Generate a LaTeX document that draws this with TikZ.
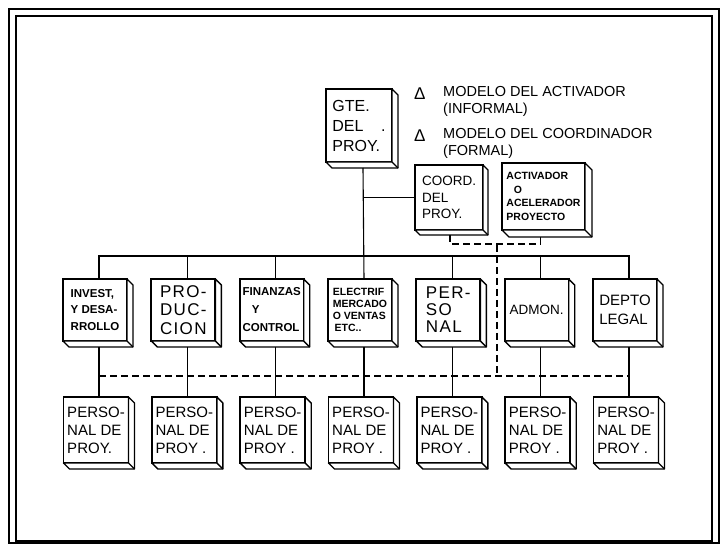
\documentclass[tikz,border=0pt]{standalone}
\usepackage{fontspec}
\setmainfont{Liberation Sans}
\newfontfamily\widefont[LetterSpace=8]{Liberation Sans}
\usetikzlibrary{calc}

\tikzset{
  box/.style={draw, line width=1.7pt, fill=white, align=left, inner sep=1pt, outer sep=0pt,
    font=\fontsize{15}{18}\selectfont},
  midbox/.style={box, minimum width=64pt, minimum height=62pt},
  botbox/.style={box, minimum width=65pt, minimum height=66pt},
  conn/.style={line width=1.1pt},
  dashconn/.style={line width=1.4pt, dash pattern=on 7pt off 4pt},
  frameline/.style={line width=2pt},
  sidepanel/.style={line width=1.4pt, fill=white, line join=round},
  legmark/.style={anchor=west, inner sep=0pt, font=\fontsize{17}{17}\selectfont},
  legtext/.style={anchor=west, inner sep=0pt, align=left, font=\fontsize{14.5}{17}\selectfont},
}

\newcommand{\cubeside}[2][6]{%
  \draw[sidepanel] (#2.north east) -- ++(#1,#1) -- ($(#2.south east)+(#1,#1)$)
    -- ($(#2.south west)+(#1,#1)$) -- (#2.south west) -- (#2.south east) -- cycle;
  \draw[sidepanel] (#2.south east) -- ++(#1,#1);
}

\begin{document}
\begin{tikzpicture}[x=1pt,y=-1pt]
\useasboundingbox (0,0) rectangle (723,545);

% frame
\draw[line width=2.4pt] (9,9) rectangle (719,543);
\draw[frameline] (16,16) rectangle (712,541);

% coordinates for connectors
\coordinate (bus) at (364,256);
\coordinate (dl) at (99.3,376);
\coordinate (dr) at (629,376);
\coordinate (vtop) at (497,245);

% ---- boxes ----
\node[box, minimum width=66pt, minimum height=73pt, font=\fontsize{16}{20}\selectfont] (g) at (359,125.5) {GTE.\\DEL\hspace{1.1em}.\\PROY.};
\node[box, minimum width=68pt, minimum height=65pt, font=\fontsize{13.5}{16.5}\selectfont] (c) at (449,197.5) {COORD.\\DEL\\PROY.};
\node[box, minimum width=83pt, minimum height=67pt, font=\bfseries\fontsize{10.5}{13.5}\selectfont] (a) at (543.5,196.5) {ACTIVADOR\\\hspace{0.7em}O\\ACELERADOR\\PROYECTO};

\node[midbox, font=\bfseries\fontsize{11.5}{16.5}\selectfont] (m1) at (95,310) {INVEST,\\Y DESA-\\RROLLO};
\node[midbox, font=\widefont\fontsize{17}{18.5}\selectfont] (m2) at (183.3,310) {PRO-\\DUC-\\CION};
\node[midbox, font=\bfseries\fontsize{11.5}{18}\selectfont] (m3) at (271.7,310) {FINANZAS\\\hspace{0.8em}Y\\CONTROL};
\node[midbox, font=\bfseries\fontsize{10.5}{12}\selectfont] (m4) at (360,310) {ELECTRIF\\MERCADO\\O VENTAS\\\,ETC..};
\node[midbox, font=\widefont\fontsize{17}{17}\selectfont] (m5) at (448.3,310) {PER-\\SO\\NAL};
\node[midbox, font=\fontsize{13.5}{16}\selectfont] (m6) at (536.7,310) {ADMON.};
\node[midbox, font=\fontsize{15}{19}\selectfont] (m7) at (625,310) {DEPTO\\LEGAL};

\node[botbox] (p1) at (96,430) {PERSO-\\NAL DE\\PROY.};
\node[botbox] (p2) at (184.3,430) {PERSO-\\NAL DE\\PROY .};
\node[botbox] (p3) at (272.7,430) {PERSO-\\NAL DE\\PROY .};
\node[botbox] (p4) at (361,430) {PERSO-\\NAL DE\\PROY .};
\node[botbox] (p5) at (449.3,430) {PERSO-\\NAL DE\\PROY .};
\node[botbox] (p6) at (537.7,430) {PERSO-\\NAL DE\\PROY .};
\node[botbox] (p7) at (626,430) {PERSO-\\NAL DE\\PROY .};

% 3D sides
\cubeside{g}
\cubeside[5]{c}
\cubeside[7]{a}
\foreach \i in {1,...,7}{\cubeside{m\i}\cubeside{p\i}}

% connectors
\coordinate (tk) at ([xshift=4pt]g.south);
\draw[conn] ([xshift=4pt,yshift=-6pt]g.south) -- ([xshift=4pt]m4.north);
\draw[conn] (c.west) -- (c.west -| tk);
\draw[conn] ([xshift=4pt]m1.north) |- (bus) -| ([xshift=4pt]m7.north);
\foreach \i in {2,3,5,6}{\draw[conn] ([xshift=4pt]m\i.north) -- ++(0,-23);}
\foreach \i in {1,...,7}{\draw[conn] ([xshift=4pt,yshift=-6pt]m\i.south) -- ([xshift=3pt]p\i.north);}

% dashed informal links
\draw[dashconn] ([xshift=1pt,yshift=-5pt]c.south) -- ++(0,9) -| ([xshift=-3pt,yshift=-7pt]a.south);
\draw[dashconn] (vtop) -- (vtop |- dl);
\draw[dashconn] (dl) -- (dr);

% legend
\node[legmark] (d1) at (414,94) {Δ};
\node[legtext] (l1) at (443,101.5) {MODELO DEL ACTIVADOR\\(INFORMAL)};
\node[legmark] (d2) at (414,136) {Δ};
\node[legtext] (l2) at (443,143.5) {MODELO DEL COORDINADOR\\(FORMAL)};
\end{tikzpicture}
\end{document}
